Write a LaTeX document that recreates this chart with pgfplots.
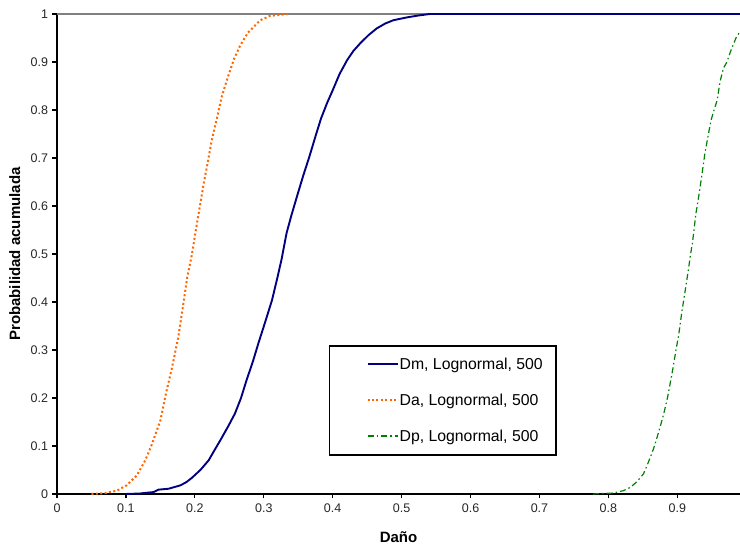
\documentclass[border=0pt]{standalone}
\usepackage{fontspec}
\setmainfont{Liberation Sans}
\usepackage{pgfplots}
\pgfplotsset{compat=1.18}
\definecolor{dmcol}{RGB}{0,0,128}
\definecolor{dacol}{RGB}{255,102,0}
\definecolor{dpcol}{RGB}{0,128,0}

\begin{document}
\begin{tikzpicture}
\pgfplotsset{set layers}
\begin{axis}[
  scale only axis, width=683pt, height=480pt,
  xmin=0, xmax=0.991, ymin=0, ymax=1,
  clip=false,
  axis x line*=bottom, axis y line*=left,
  axis line style={line width=1.6pt, black, -},
  xtick={0,0.1,0.2,0.3,0.4,0.5,0.6,0.7,0.8,0.9},
  xticklabels={0,0.1,0.2,0.3,0.4,0.5,0.6,0.7,0.8,0.9},
  ytick={0,0.1,0.2,0.3,0.4,0.5,0.6,0.7,0.8,0.9,1},
  yticklabels={0,0.1,0.2,0.3,0.4,0.5,0.6,0.7,0.8,0.9,1},
  tick align=outside, major tick length=4.5pt,
  tick style={line width=1.3pt, black},
  /pgf/number format/assume math mode=true,
  xticklabel style={font=\fontsize{12.5}{14}\selectfont, text=black!85, yshift=-2pt},
  yticklabel style={font=\fontsize{12.5}{14}\selectfont, text=black!85, xshift=-1pt},
  xlabel={\textbf{Daño}},
  ylabel={\textbf{Probabilidad acumulada}},
  xlabel style={font=\fontsize{15}{17}\selectfont, at={(axis description cs:0.5,-0.09)}, anchor=center},
  ylabel style={font=\fontsize{15}{17}\selectfont, at={(axis description cs:-0.062,0.5)}, anchor=center},
  legend style={at={(axis description cs:0.398,0.310)}, anchor=north west,
    draw=black, line width=1.6pt, fill=white,
    font=\fontsize{15.8}{18}\selectfont,
    inner xsep=12pt, inner ysep=10pt, row sep=19pt,
    nodes={inner xsep=1pt, inner ysep=2pt}},
  legend cell align=left,
  legend image code/.code={\path (-25pt,0pt); \draw[#1, line cap=butt] (0pt,0.3pt) -- (30pt,0.3pt);},
]
\draw[on layer=axis background, color=gray, line width=1.8pt] (rel axis cs:0,1) -- (rel axis cs:1,1);

\addplot[color=dmcol, line width=1.9pt, solid] coordinates {
(0.100,0) (0.120,0.001) (0.140,0.004) (0.147,0.009) (0.162,0.011)
(0.179,0.018) (0.188,0.025) (0.196,0.034) (0.208,0.050) (0.220,0.070)
(0.228,0.090) (0.237,0.112) (0.248,0.140) (0.258,0.167) (0.267,0.200)
(0.275,0.237) (0.284,0.275) (0.292,0.313) (0.302,0.358) (0.312,0.404)
(0.320,0.452) (0.326,0.490) (0.333,0.543) (0.340,0.580) (0.348,0.619)
(0.357,0.662) (0.366,0.702) (0.375,0.745) (0.383,0.782) (0.392,0.815)
(0.400,0.841) (0.410,0.875) (0.421,0.904) (0.430,0.923) (0.440,0.939)
(0.452,0.956) (0.464,0.970) (0.476,0.980) (0.488,0.987) (0.508,0.993)
(0.525,0.997) (0.541,1.000) (0.991,1.000)};
\addlegendentry{Dm, Lognormal, 500}

\addplot[color=dacol, line width=2pt, dash pattern=on 2pt off 2.4pt] coordinates {
(0.050,0) (0.070,0.002) (0.087,0.007) (0.101,0.018) (0.116,0.039)
(0.128,0.070) (0.137,0.101) (0.150,0.153) (0.158,0.209) (0.167,0.264)
(0.176,0.327) (0.183,0.393) (0.189,0.452) (0.1955,0.497) (0.204,0.572)
(0.213,0.648) (0.219,0.693) (0.2245,0.737) (0.233,0.789) (0.239,0.828)
(0.248,0.869) (0.257,0.907) (0.266,0.935) (0.277,0.961) (0.295,0.987)
(0.309,0.996) (0.328,0.999) (0.335,1.000)};
\addlegendentry{Da, Lognormal, 500}

\addplot[color=dpcol, line width=1.2pt, dash pattern=on 6pt off 3pt on 1.5pt off 3pt] coordinates {
(0.778,0) (0.807,0.002) (0.822,0.007) (0.832,0.014) (0.841,0.025)
(0.851,0.042) (0.858,0.066) (0.8655,0.094) (0.870,0.115) (0.875,0.139)
(0.881,0.171) (0.886,0.202) (0.890,0.233) (0.894,0.264) (0.898,0.299)
(0.902,0.331) (0.907,0.383) (0.910,0.410) (0.913,0.438) (0.916,0.466)
(0.919,0.497) (0.922,0.523) (0.927,0.584) (0.931,0.619) (0.936,0.668)
(0.940,0.709) (0.944,0.741) (0.949,0.779) (0.954,0.803) (0.958,0.821)
(0.962,0.859) (0.967,0.887) (0.972,0.900) (0.977,0.921) (0.982,0.939)
(0.986,0.953) (0.991,0.963)};
\addlegendentry{Dp, Lognormal, 500}

\coordinate (SW) at (rel axis cs:0,0);
\coordinate (NE) at (rel axis cs:1,1);
\end{axis}
\pgfresetboundingbox
\path[use as bounding box] ([xshift=-57pt,yshift=-52pt]SW) rectangle ([yshift=14pt]NE);
\end{tikzpicture}
\end{document}
